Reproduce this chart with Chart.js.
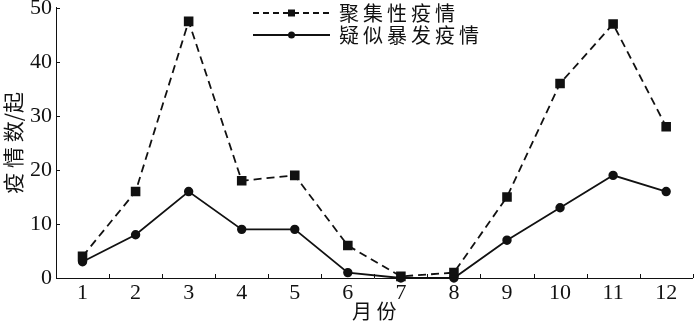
<!DOCTYPE html>
<html>
<head>
<meta charset="utf-8">
<script src="https://cdn.jsdelivr.net/npm/chart.js@4"></script>
<style>
  html, body { margin: 0; padding: 0; background: #fff; }
  #wrap { width: 700px; height: 323px; }
</style>
</head>
<body>
<div id="wrap"><canvas id="chart"></canvas></div>
<script>
// Data
const months = [1, 2, 3, 4, 5, 6, 7, 8, 9, 10, 11, 12];
const clusterCases = [4, 16, 47.5, 18, 19, 6, 0.3, 1, 15, 36, 47, 28];   // 聚集性疫情
const suspectedOutbreaks = [3, 8, 16, 9, 9, 1, 0, 0, 7, 13, 19, 16];    // 疑似暴发疫情
const yTicks = [0, 10, 20, 30, 40, 50];
const seriesNames = ['聚集性疫情', '疑似暴发疫情'];

const serif = '"Liberation Serif", "DejaVu Serif", serif';
const cjk = '"Noto Sans CJK SC", sans-serif';
const ink = '#111';

// Inward tick marks (half-month on x, every 10 on y)
const innerTicks = {
  id: 'innerTicks',
  afterDraw(chart) {
    const { ctx, scales: { x, y }, chartArea } = chart;
    ctx.save();
    ctx.strokeStyle = ink;
    ctx.lineWidth = 1;
    ctx.beginPath();
    for (let m = 0.5; m <= 12.5; m += 1) {
      const px = Math.round(x.getPixelForValue(m)) + 0.5;
      ctx.moveTo(px, chartArea.bottom);
      ctx.lineTo(px, chartArea.bottom - 4);
    }
    yTicks.forEach(v => {
      if (v === 0) return;
      const py = Math.round(y.getPixelForValue(v)) + 0.5;
      ctx.moveTo(chartArea.left, py);
      ctx.lineTo(chartArea.left + 4, py);
    });
    ctx.stroke();
    ctx.restore();
  }
};

// Legend drawn as line samples with markers
const lineLegend = {
  id: 'lineLegend',
  afterDraw(chart) {
    const { ctx } = chart;
    const x0 = 253, x1 = 330, textX = 339;
    const rows = [13, 35];
    ctx.save();
    chart.data.datasets.forEach((ds, i) => {
      const yy = rows[i];
      ctx.strokeStyle = ink;
      ctx.lineWidth = 1.8;
      ctx.setLineDash(ds.borderDash ? [6, 4] : []);
      ctx.beginPath();
      ctx.moveTo(x0, yy);
      ctx.lineTo(x1, yy);
      ctx.stroke();
      ctx.setLineDash([]);
      ctx.fillStyle = ink;
      const mx = (x0 + x1) / 2;
      if (ds.pointStyle === 'rect') {
        ctx.fillRect(mx - 3.5, yy - 3.5, 7, 7);
      } else {
        ctx.beginPath();
        ctx.arc(mx, yy, 3.5, 0, Math.PI * 2);
        ctx.fill();
      }
      ctx.font = '20px ' + cjk;
      ctx.textBaseline = 'middle';
      ctx.textAlign = 'left';
      ctx.fillText(ds.label.split('').join('\u2009'), textX, yy);
    });
    ctx.restore();
  }
};

new Chart(document.getElementById('chart'), {
  type: 'line',
  data: {
    datasets: [
      {
        label: seriesNames[0],
        data: months.map((m, i) => ({ x: m, y: clusterCases[i] })),
        borderColor: ink,
        backgroundColor: ink,
        borderWidth: 1.8,
        borderDash: [8, 5],
        pointStyle: 'rect',
        pointRadius: 5.5,
        pointHoverRadius: 5.5,
        tension: 0,
        clip: false
      },
      {
        label: seriesNames[1],
        data: months.map((m, i) => ({ x: m, y: suspectedOutbreaks[i] })),
        borderColor: ink,
        backgroundColor: ink,
        borderWidth: 1.8,
        pointStyle: 'circle',
        pointRadius: 3.8,
        pointHoverRadius: 3.8,
        tension: 0,
        clip: false
      }
    ]
  },
  options: {
    responsive: true,
    maintainAspectRatio: false,
    animation: false,
    events: [],
    layout: { padding: { top: 0, right: 0, left: 0, bottom: 0 } },
    plugins: {
      legend: { display: false },
      tooltip: { enabled: false }
    },
    scales: {
      x: {
        type: 'linear',
        min: 0.5,
        max: 12.5,
        afterBuildTicks: scale => {
          scale.ticks = months.map(v => ({ value: v }));
        },
        afterFit: scale => { scale.height = 45; },
        ticks: {
          color: ink,
          font: { family: serif, size: 22, lineHeight: 1 },
          padding: 4,
          maxRotation: 0,
          autoSkip: false
        },
        grid: { display: true, drawOnChartArea: false, drawTicks: false, color: 'rgba(0,0,0,0)' },
        border: { display: true, color: ink, width: 1 },
        title: {
          display: true,
          text: '月 份',
          color: ink,
          font: { family: cjk, size: 20 },
          padding: 0
        }
      },
      y: {
        min: 0,
        max: 50,
        afterBuildTicks: scale => {
          scale.ticks = yTicks.map(v => ({ value: v }));
        },
        afterFit: scale => { scale.width = 56; },
        ticks: {
          color: ink,
          font: { family: serif, size: 22, lineHeight: 0.35 },
          padding: 4
        },
        grid: { display: true, drawOnChartArea: false, drawTicks: false, color: 'rgba(0,0,0,0)' },
        border: { display: true, color: ink, width: 1 },
        title: {
          display: true,
          text: '疫 情 数/起',
          color: ink,
          font: { family: cjk, size: 21 },
          padding: 0
        }
      }
    }
  },
  plugins: [innerTicks, lineLegend]
});
</script>
</body>
</html>
